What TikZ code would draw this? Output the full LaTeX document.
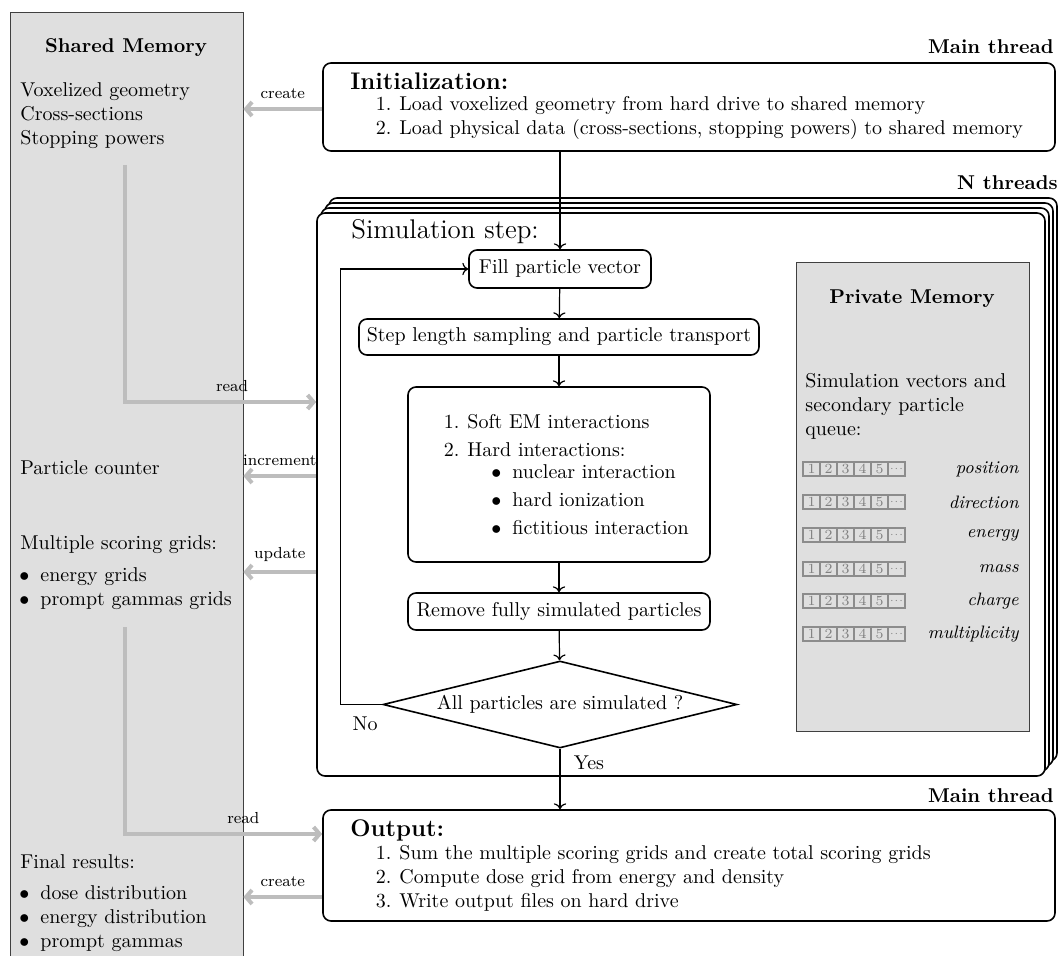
\documentclass[tikz,border=0pt]{standalone}
\usepackage{tikz}
\usetikzlibrary{positioning}
\usetikzlibrary{shapes.geometric}
\usetikzlibrary{arrows.meta}
\definecolor{memgray}{HTML}{DFDFDF}
\definecolor{sharegray}{HTML}{BDBDBD}
\newcommand{\numitem}[2]{\makebox[9pt][r]{#1}\hspace{4pt}#2}
\newcommand{\bulitem}[1]{\makebox[10.5pt][l]{$\bullet$}#1}

\begin{document}
\begin{tikzpicture}[x=0.5pt, y=-0.5pt,
  box/.style={draw, thick, rounded corners=4pt, fill=white, inner sep=0pt},
  mem/.style={draw=black!75, fill=memgray, inner sep=0pt},
  flow/.style={->, semithick},
  share/.style={line width=2pt, draw=sharegray, -{Straight Barb[length=3pt,width=7pt]}},
  lbl/.style={font=\footnotesize, above=1pt},
  txt/.style={anchor=west, align=left, inner sep=0pt},
  cell/.style={draw=black!45, semithick, minimum width=8.5pt, minimum height=7pt, inner sep=0pt, text=black!50, font=\scriptsize}]
  \useasboundingbox (0,0) rectangle (1064,956);

  \node[mem, minimum width=116.5pt, minimum height=494pt] (shared) at (126.5,506) {};
  \node[font=\bfseries] (sharedtitle) at (126,48) {Shared Memory};
  \node[txt] (geom) at (20,116) {Voxelized geometry\\Cross-sections\\Stopping powers};
  \node[txt] (counter) at (20,468) {Particle counter};
  \node[txt] (grids) at (20,545) {Multiple scoring grids:};
  \node[txt] (gridlist) at (19,589) {\bulitem{energy grids}\\\bulitem{prompt gammas grids}};
  \node[txt] (final) at (20,862) {Final results:};
  \node[txt] (finallist) at (19,919) {\bulitem{dose distribution}\\\bulitem{energy distribution}\\\bulitem{prompt gammas}};

  \node[box, minimum width=366pt, minimum height=44pt] (init) at (689,107) {};
  \node[anchor=east, font=\bfseries, inner sep=0pt] (mainthread) at (1054,47) {Main thread};
  \node[txt, font=\large\bfseries] (inittitle) at (350,81) {Initialization:};
  \node[txt] (initlist) at (373,118) {\numitem{1.}{Load voxelized geometry from hard drive to shared memory}\\
    \numitem{2.}{Load physical data (cross-sections, stopping powers) to shared memory}};

  \foreach \k in {3,2,1}
    \node[box, minimum width=364pt, minimum height=281.5pt] (thread\k) at ({681+4*\k},{494.5-5*\k}) {};
  \node[box, minimum width=364pt, minimum height=281.5pt] (thread) at (681,494.5) {};
  \node[anchor=east, font=\bfseries, inner sep=0pt] (nthreads) at (1058,183) {N threads};
  \node[txt, font=\fontsize{13.5pt}{16pt}\selectfont] (simtitle) at (351,232) {Simulation step:};

  \node[box, minimum width=91pt, minimum height=19pt] (fill) at (560,269) {Fill particle vector};
  \node[box, minimum width=200pt, minimum height=18pt] (step) at (559,337) {Step length sampling and particle transport};
  \node[box, minimum width=151pt, minimum height=87.5pt] (inter) at (559,474.5) {};
  \node[txt] (interlist) at (441,436) {\numitem{1.}{Soft EM interactions}\\[2pt]\numitem{2.}{Hard interactions:}};
  \node[txt] (hardlist) at (491,500) {\bulitem{nuclear interaction}\\[2pt]\bulitem{hard ionization}\\[2pt]\bulitem{fictitious interaction}};
  \node[box, minimum width=151pt, minimum height=18.5pt] (remove) at (559,611.5) {Remove fully simulated particles};
  \node[draw, thick, diamond, shape aspect=4, fill=white, inner sep=0pt, minimum width=177pt, minimum height=43.5pt] (done) at (560,704.5) {All particles are simulated ?};
  \node (no) at (365,724) {No};
  \node (yes) at (589,763) {Yes};

  \node[mem, minimum width=116.5pt, minimum height=234.5pt] (private) at (912.5,496.5) {};
  \node[font=\bfseries] (privatetitle) at (912,299) {Private Memory};
  \node[txt] (vectors) at (805,406) {Simulation vectors and\\secondary particle\\queue:};
  \foreach \y/\name in {469/position, 502/direction, 535/energy, 569/mass, 601/charge, 634/multiplicity} {
    \foreach \i/\t in {1/1, 2/2, 3/3, 4/4, 5/5, 6/$\scriptscriptstyle\cdots$}
      \node[cell] (cell-\name-\i) at ({794.5+17*\i},\y) {\t};
    \node[anchor=east, inner sep=0pt, font=\small\itshape] (\name) at (1019,\y) {\name};
  }

  \node[box, minimum width=366pt, minimum height=55.5pt] (output) at (689,865.5) {};
  \node[anchor=east, font=\bfseries, inner sep=0pt] (mainthread2) at (1054,796) {Main thread};
  \node[txt, font=\large\bfseries] (outtitle) at (350,830) {Output:};
  \node[txt] (outlist) at (373,878) {\numitem{1.}{Sum the multiple scoring grids and create total scoring grids}\\
    \numitem{2.}{Compute dose grid from energy and density}\\
    \numitem{3.}{Write output files on hard drive}};

  \draw[flow] (init.south -| fill.north) -- (fill.north);
  \draw[flow] (fill) -- (step);
  \draw[flow] (step) -- (inter);
  \draw[flow] (inter) -- (remove);
  \draw[flow] (remove) -- (done);
  \draw[flow] (done.west) -- ++(-42,0) |- (fill.west);
  \draw[flow] (done.south) -- (output.north -| done.south);

  \coordinate (readtop) at (125,165);
  \coordinate (readbot) at (125,627);
  \draw[share] (init.west |- 0,109) -- node[lbl] {create} (shared.east |- 0,109);
  \draw[share] (readtop) |- node[lbl, pos=0.78] {read} (thread.west |- 0,402);
  \draw[share] (thread.west |- 0,476) -- node[lbl] {increment} (shared.east |- 0,476);
  \draw[share] (thread.west |- 0,572) -- node[lbl] {update} (shared.east |- 0,572);
  \draw[share] (readbot) |- node[lbl, pos=0.8] {read} (output.west |- 0,834);
  \draw[share] (output.west |- 0,897) -- node[lbl] {create} (shared.east |- 0,897);
\end{tikzpicture}
\end{document}
